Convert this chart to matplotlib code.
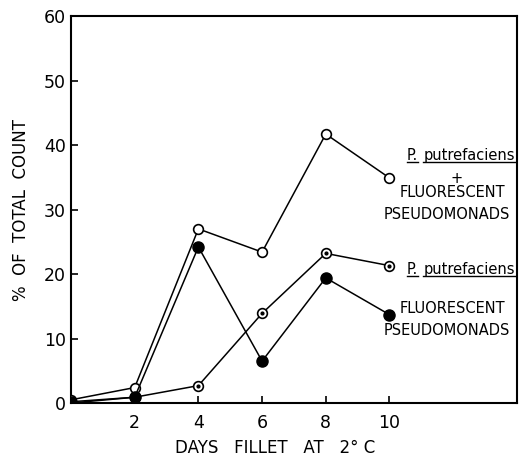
import matplotlib
matplotlib.use('Agg')
import matplotlib.pyplot as plt

# percent of total count vs days of storage
days = [0, 2, 4, 6, 8, 10]
combined = [0.5, 2.4, 27.0, 23.4, 41.7, 34.9]
putrefaciens = [0.0, 0.9, 2.7, 13.9, 23.2, 21.3]
fluorescent = [0.2, 0.9, 24.2, 6.5, 19.4, 13.7]

x_ticks = [2, 4, 6, 8, 10]
y_ticks = [0, 10, 20, 30, 40, 50, 60]

plt.rcParams['font.family'] = ['DejaVu Sans']
fig = plt.figure(figsize=(5.2, 4.58), dpi=100)
ax = fig.add_axes([0.1365, 0.12, 0.8575, 0.845])

lw = 1.1
ax.plot(days, combined, color='black', lw=lw, marker='o', ms=7,
        mfc='white', mec='black', mew=1.2, zorder=3)
ax.plot(days, putrefaciens, color='black', lw=lw, marker='o', ms=7,
        mfc='white', mec='black', mew=1.2, zorder=3)
# dot inside the open circles
ax.plot(days[1:], putrefaciens[1:], ls='none', marker='o', ms=2,
        color='black', zorder=4)
ax.plot(days, fluorescent, color='black', lw=lw, marker='o', ms=8,
        mfc='black', mec='black', zorder=5)

ax.set_xlim(0, 14)
ax.set_ylim(0, 60)
ax.set_xticks(x_ticks)
ax.set_yticks(y_ticks)
ax.tick_params(direction='in', length=5, width=1.2, labelsize=12.5)
ax.tick_params(axis='x', pad=8)
for s in ax.spines.values():
    s.set_linewidth(1.5)

ax.set_ylabel('%  OF  TOTAL  COUNT', fontsize=12, labelpad=10)
ax.text(6.4, -7.0, 'DAYS   FILLET   AT   2° C', fontsize=12,
        ha='center', va='center')

fs = 10.5


def species_label(y):
    # "P. putrefaciens" with underlined words
    t1 = ax.text(10.72, y, 'P.', fontsize=fs, ha='center', va='center')
    t2 = ax.text(12.5, y, 'putrefaciens', fontsize=fs, ha='center',
                 va='center')
    fig.canvas.draw()
    inv = ax.transData.inverted()
    for t in (t1, t2):
        bb = t.get_window_extent()
        (x0, y0), (x1, _) = inv.transform([[bb.x0, bb.y0], [bb.x1, bb.y1]])
        ax.plot([x0, x1], [y0 + 0.1, y0 + 0.1], color='black', lw=1.0,
                clip_on=False)


species_label(38.4)
ax.text(12.1, 34.8, '+', fontsize=fs, ha='center', va='center')
ax.text(11.98, 32.7, 'FLUORESCENT', fontsize=fs, ha='center', va='center')
ax.text(11.8, 29.3, 'PSEUDOMONADS', fontsize=fs, ha='center', va='center')

species_label(20.7)
ax.text(11.98, 14.7, 'FLUORESCENT', fontsize=fs, ha='center', va='center')
ax.text(11.8, 11.3, 'PSEUDOMONADS', fontsize=fs, ha='center', va='center')

fig.savefig('out.png', dpi=100)
